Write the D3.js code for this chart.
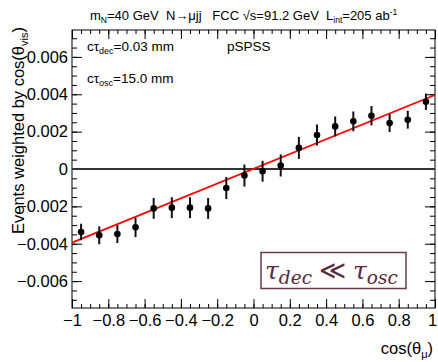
<!DOCTYPE html>
<html><head><meta charset="utf-8">
<script src="https://cdn.jsdelivr.net/npm/d3@7"></script>
<style>body{margin:0;background:#fff} svg{display:block} text{font-family:"Liberation Sans",Arial,Helvetica,sans-serif}</style>
</head><body><svg id="c" width="438" height="362"></svg>
<script>
const binCenters = [-0.95,-0.85,-0.75,-0.65,-0.55,-0.45,-0.35,-0.25,-0.15,-0.05,0.05,0.15,0.25,0.35,0.45,0.55,0.65,0.75,0.85,0.95];
const values = [-0.00337,-0.00355,-0.00348,-0.00312,-0.00211,-0.00207,-0.00207,-0.00211,-0.00102,-0.00035,-0.00012,0.00019,0.00113,0.00182,0.00228,0.00255,0.00285,0.00246,0.00264,0.0036];
const errors = [0.00044,0.00048,0.00048,0.00052,0.00056,0.00056,0.00056,0.00056,0.00059,0.00059,0.00056,0.00059,0.00059,0.00056,0.00053,0.00053,0.00052,0.00048,0.00048,0.00044];
const fitX = [-1, 1];
const fitY = [-0.00394, 0.00396];
const xMajorTicks = [-1,-0.8,-0.6,-0.4,-0.2,0,0.2,0.4,0.6,0.8,1];
const xTickLabels = ["\u22121","\u22120.8","\u22120.6","\u22120.4","\u22120.2","0","0.2","0.4","0.6","0.8","1"];
const yMajorTicks = [-0.006,-0.004,-0.002,0,0.002,0.004,0.006];
const yTickLabels = ["\u22120.006","\u22120.004","\u22120.002","0","0.002","0.004","0.006"];
const xDomain = [-1, 1];
const yDomain = [-0.00744, 0.00744];

const svg = d3.select("#c");
const L = 72, R = 435, T = 30, B = 308;
const x = d3.scaleLinear().domain(xDomain).range([L, R]);
const y = d3.scaleLinear().domain(yDomain).range([B, T]);

const xMinor = d3.range(-1, 1.0001, 0.05).map(v => +v.toFixed(2));
const yMinor = d3.range(-0.007, 0.00701, 0.0005).map(v => +v.toFixed(4));

function styleAxis(g){ g.select(".domain").remove(); g.selectAll("line").attr("stroke","#000").attr("stroke-width",1); }

// bottom
svg.append("g").attr("transform",`translate(0,${B})`)
  .call(d3.axisBottom(x).tickValues(xMinor).tickSize(-4).tickFormat("")).call(styleAxis);
const gxb = svg.append("g").attr("transform",`translate(0,${B})`)
  .call(d3.axisBottom(x).tickValues(xMajorTicks).tickSize(-9).tickPadding(5).tickFormat((d,i)=>xTickLabels[i])).call(styleAxis);
gxb.selectAll("text").attr("font-size",16.5).attr("fill","#000").attr("dy","0.9em").attr("y",3)
  .attr("dx",(d)=> d===1 ? -3 : 0);
// top
svg.append("g").attr("transform",`translate(0,${T})`)
  .call(d3.axisTop(x).tickValues(xMinor).tickSize(-4).tickFormat("")).call(styleAxis);
svg.append("g").attr("transform",`translate(0,${T})`)
  .call(d3.axisTop(x).tickValues(xMajorTicks).tickSize(-9).tickFormat("")).call(styleAxis);
// left
svg.append("g").attr("transform",`translate(${L},0)`)
  .call(d3.axisLeft(y).tickValues(yMinor).tickSize(-5).tickFormat("")).call(styleAxis);
const gyl = svg.append("g").attr("transform",`translate(${L},0)`)
  .call(d3.axisLeft(y).tickValues(yMajorTicks).tickSize(-10).tickPadding(4).tickFormat((d,i)=>yTickLabels[i])).call(styleAxis);
gyl.selectAll("text").attr("font-size",16.5).attr("fill","#000");
// right
svg.append("g").attr("transform",`translate(${R},0)`)
  .call(d3.axisRight(y).tickValues(yMinor).tickSize(-5).tickFormat("")).call(styleAxis);
svg.append("g").attr("transform",`translate(${R},0)`)
  .call(d3.axisRight(y).tickValues(yMajorTicks).tickSize(-10).tickFormat("")).call(styleAxis);

// frame
svg.append("rect").attr("x",L).attr("y",T).attr("width",R-L).attr("height",B-T)
  .attr("fill","none").attr("stroke","#000").attr("stroke-width",1);

// zero line
svg.append("line").attr("x1",x(xDomain[0])).attr("x2",x(xDomain[1])).attr("y1",y(0)).attr("y2",y(0))
  .attr("stroke","#333").attr("stroke-width",1.8);

// fit line
svg.append("path").datum(fitX.map((v,i)=>[v,fitY[i]]))
  .attr("d", d3.line().x(d=>x(d[0])).y(d=>y(d[1])))
  .attr("stroke","#ff0000").attr("stroke-width",1.8).attr("fill","none");

// error bars + points
const pts = binCenters.map((c,i)=>({c, v:values[i], e:errors[i]}));
svg.append("g").selectAll("line").data(pts).join("line")
  .attr("x1",d=>x(d.c)).attr("x2",d=>x(d.c)).attr("y1",d=>y(d.v-d.e)).attr("y2",d=>y(d.v+d.e))
  .attr("stroke","#111").attr("stroke-width",2);
svg.append("g").selectAll("circle").data(pts).join("circle")
  .attr("cx",d=>x(d.c)).attr("cy",d=>y(d.v)).attr("r",3.3).attr("fill","#000");

// title
const tt = svg.append("text").attr("x",90).attr("y",20).attr("font-size",13).attr("fill","#000").style("white-space","pre");
tt.append("tspan").text("m");
tt.append("tspan").attr("font-size",8.5).attr("dy",3).text("N");
tt.append("tspan").attr("dy",-3).text("=40 GeV  N\u2192\u03bcjj   FCC \u221as=91.2 GeV  L");
tt.append("tspan").attr("font-size",8.5).attr("dy",3).text("int");
tt.append("tspan").attr("dy",-3).text("=205 ab");
tt.append("tspan").attr("font-size",8.5).attr("dy",-5).text("-1");

// y title
const yt = svg.append("text").attr("transform","translate(24,27) rotate(-90)").attr("text-anchor","end")
  .attr("font-size",16.5).attr("fill","#000");
yt.append("tspan").text("Events weighted by cos(\u03b8");
yt.append("tspan").attr("font-size",11).attr("dy",4).text("vis");
yt.append("tspan").attr("dy",-4).text(")");

// x title
const xt = svg.append("text").attr("x",433).attr("y",354).attr("text-anchor","end").attr("font-size",16.5).attr("fill","#000");
xt.append("tspan").text("cos(\u03b8");
xt.append("tspan").attr("font-size",11).attr("dy",4).text("\u03bc");
xt.append("tspan").attr("dy",-4).text(")");

// annotations
function ctau(xp, yp, sub, rest){
  const t = svg.append("text").attr("x",xp).attr("y",yp).attr("font-size",13.5).attr("fill","#000");
  t.append("tspan").text("c\u03c4");
  t.append("tspan").attr("font-size",9).attr("dy",3).text(sub);
  t.append("tspan").attr("dy",-3).text(rest);
}
ctau(87, 51, "dec", "=0.03 mm");
ctau(87, 83, "osc", "=15.0 mm");
svg.append("text").attr("x",227).attr("y",51).attr("font-size",13.5).attr("fill","#000").text("pSPSS");

// box
const boxColor = "#6a3a4a";
svg.append("rect").attr("x",261).attr("y",252.5).attr("width",145).attr("height",36)
  .attr("fill","#fff").attr("stroke",boxColor).attr("stroke-width",1.5);
const bt = svg.append("text").attr("x",265).attr("y",279).attr("fill","#5a2a3a")
  .style("font-family","'DejaVu Serif','Liberation Serif',serif").attr("font-size",25);
bt.append("tspan").attr("font-style","italic").text("\u03c4");
bt.append("tspan").attr("font-style","italic").attr("font-size",18.5).attr("dy",5).text("dec");
bt.append("tspan").attr("dy",-5).attr("dx",7).attr("font-size",26).text("\u226a");
bt.append("tspan").attr("font-style","italic").attr("dx",7).text("\u03c4");
bt.append("tspan").attr("font-style","italic").attr("font-size",18.5).attr("dy",5).text("osc");
</script></body></html>
